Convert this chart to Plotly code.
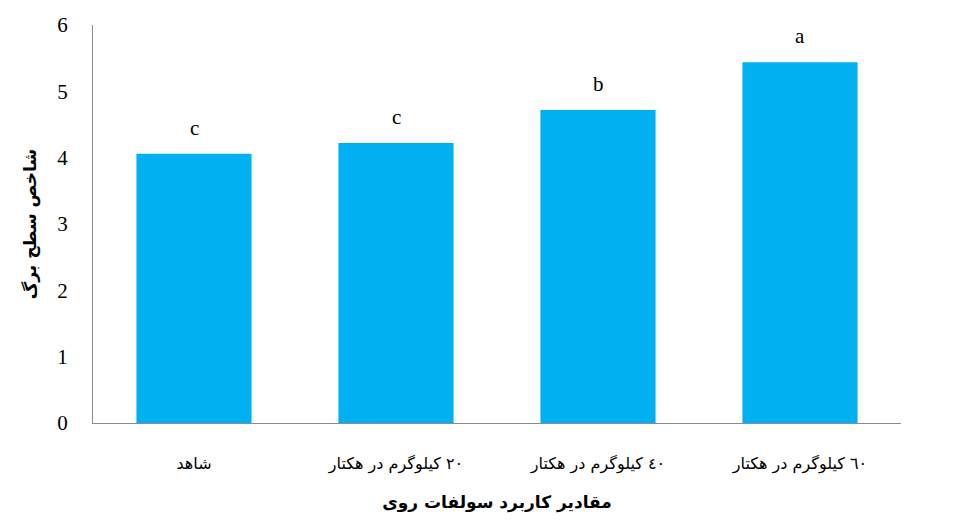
import plotly.graph_objects as go

categorias = ["شاهد", "٢٠ کیلوگرم در هکتار", "٤٠ کیلوگرم در هکتار", "٦٠ کیلوگرم در هکتار"]
valores = [4.06, 4.22, 4.72, 5.44]
letras = ["c", "c", "b", "a"]
ticks_y = [0, 1, 2, 3, 4, 5, 6]

fig = go.Figure()

fig.add_trace(go.Bar(
    x=categorias,
    y=valores,
    marker_color="#00B0F0",
    marker_line_width=0,
    width=0.57,
))

# letras de significancia encima de cada barra
for cat, val, letra in zip(categorias, valores, letras):
    fig.add_annotation(
        x=cat, y=val, text=letra, showarrow=False,
        yshift=26, font=dict(family="Liberation Serif", size=21, color="black"),
    )

fig.update_layout(
    width=969, height=527,
    template="plotly_white",
    showlegend=False,
    plot_bgcolor="white",
    paper_bgcolor="white",
    margin=dict(l=85, r=76, t=17, b=112, autoexpand=False),
    font=dict(family="Liberation Serif, DejaVu Sans", color="black"),
    xaxis=dict(
        showline=True, linecolor="#8c8c8c", linewidth=1,
        showgrid=False, ticks="", automargin=False,
        ticklabelstandoff=26,
        tickfont=dict(family="DejaVu Sans", size=16, color="black"),
        title=dict(text="<b>مقادیر کاربرد سولفات روی</b>",
                   font=dict(family="DejaVu Sans", size=17, color="black"), standoff=22),
    ),
    yaxis=dict(
        range=[0, 6], tickvals=ticks_y,
        showline=True, linecolor="#8c8c8c", linewidth=1,
        showgrid=False, zeroline=False, ticks="", automargin=False,
        ticklabelstandoff=20,
        tickfont=dict(family="Liberation Serif", size=21, color="black"),
        title=dict(text="<b>شاخص سطح برگ</b>",
                   font=dict(family="DejaVu Sans", size=17, color="black"), standoff=16),
    ),
)

fig.write_html("out.html")
